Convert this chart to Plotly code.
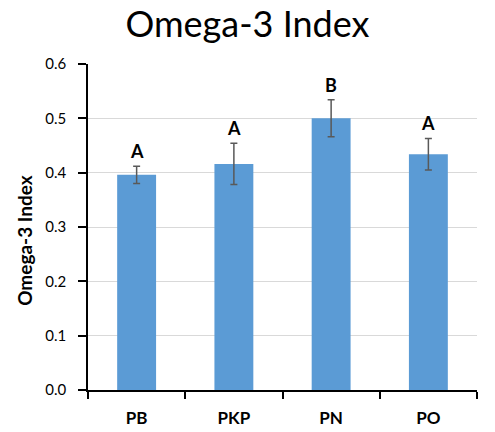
import plotly.graph_objects as go

# Omega-3 index by group, with standard error and significance letters
groups = ["PB", "PKP", "PN", "PO"]
index_values = [0.396, 0.416, 0.500, 0.434]
errors = [0.016, 0.038, 0.034, 0.029]
letters = ["A", "A", "B", "A"]
y_ticks = [0.0, 0.1, 0.2, 0.3, 0.4, 0.5, 0.6]
y_tick_labels = ["0.0", "0.1", "0.2", "0.3", "0.4", "0.5", "0.6"]

FONT = "Lato, 'Open Sans', sans-serif"

fig = go.Figure(
    go.Bar(
        x=groups,
        y=index_values,
        marker=dict(color="#5B9BD5", line=dict(width=0)),
        width=0.4,
        error_y=dict(type="data", array=errors, visible=True,
                     color="#595959", thickness=1.5, width=3.5),
    )
)

for g, v, e, t in zip(groups, index_values, errors, letters):
    fig.add_annotation(x=g, y=v + e, text=f"<b>{t}</b>", showarrow=False,
                       yanchor="bottom", yshift=2,
                       font=dict(family=FONT, size=18, color="black"))

# vertical axis title
fig.add_annotation(xref="paper", yref="paper", x=-0.165, y=0.46,
                   text="<b>Omega-3 Index</b>", textangle=-90,
                   showarrow=False, xanchor="center", yanchor="middle",
                   font=dict(family=FONT, size=19, color="black"))

fig.update_layout(
    width=495, height=432,
    margin=dict(l=88, r=18, t=64, b=42),
    paper_bgcolor="white", plot_bgcolor="white",
    showlegend=False,
    title=dict(text="Omega-3 Index", x=0.5, xanchor="center", y=0.943,
               yanchor="middle",
               font=dict(family=FONT, size=36, color="black")),
    font=dict(family=FONT, color="black"),
)

fig.update_xaxes(
    automargin=False,
    showline=True, linecolor="black", linewidth=1.5,
    ticks="outside", ticklen=7, tickcolor="black", tickwidth=1.5,
    tickson="boundaries", ticklabelstandoff=12,
    tickfont=dict(family=FONT, size=17, color="black"),
    tickprefix="<b>", ticksuffix="</b>",
    range=[-0.5, 3.5],
)

fig.update_yaxes(
    automargin=False,
    range=[0, 0.6], tickvals=y_ticks, ticktext=y_tick_labels,
    showline=True, linecolor="black", linewidth=1.5,
    ticks="outside", ticklen=8, tickcolor="black", tickwidth=1.5,
    ticklabelstandoff=9,
    showgrid=True, gridcolor="#D9D9D9", gridwidth=1,
    zeroline=False,
    tickfont=dict(family=FONT, size=15, color="black"),
)

fig.write_html("out.html")
